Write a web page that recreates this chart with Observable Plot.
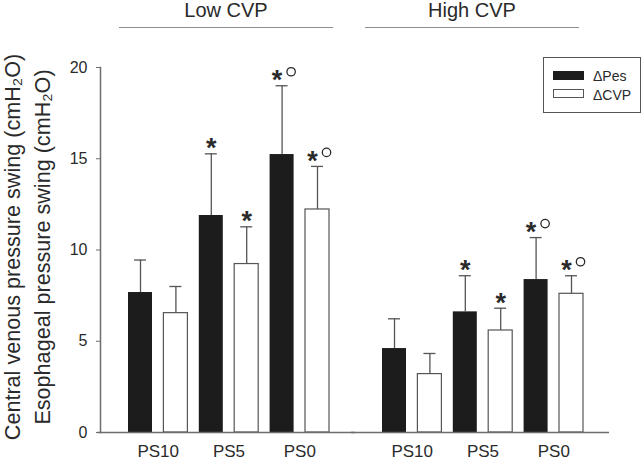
<!DOCTYPE html>
<html>
<head>
<meta charset="utf-8">
<script src="https://cdn.jsdelivr.net/npm/d3@7"></script>
<script src="https://cdn.jsdelivr.net/npm/@observablehq/plot@0.6"></script>
<style>
  body { margin: 0; background: #fff; font-family: "Liberation Sans", Arial, sans-serif; }
  #wrap { position: relative; width: 644px; height: 460px; }
  #chart { position: absolute; left: 0; top: 0; }
  .hdr { position: absolute; top: 1px; height: 26px; border-bottom: 1.5px solid #8c8c8c;
         text-align: center; font-size: 20px; line-height: 19px; color: #2a2a2a; }
  #legend { position: absolute; left: 543px; top: 57px; width: 96px; height: 54px;
            border: 1.3px solid #555; background: #fff; }
  .sw { position: absolute; left: 9px; width: 31px; height: 9px; box-sizing: border-box; }
  .lt { position: absolute; left: 49px; font-size: 14px; line-height: 14px; color: #2a2a2a; white-space: nowrap; }
</style>
</head>
<body>
<div id="wrap">
  <div id="chart"></div>
  <div id="hdrLow" class="hdr" style="left:119px;width:214px"></div>
  <div id="hdrHigh" class="hdr" style="left:365px;width:214px"></div>
  <div id="legend">
    <div class="sw" style="top:13px;background:#1c1c1c;"></div>
    <div class="lt" id="lg0" style="top:11px;"></div>
    <div class="sw" style="top:31px;background:#fff;border:1.2px solid #555;"></div>
    <div class="lt" id="lg1" style="top:30px;"></div>
  </div>
</div>
<script>
// ---- data ----
const groups = ["Low CVP", "High CVP"];
const conditions = ["PS10", "PS5", "PS0"];
const series = ["ΔPes", "ΔCVP"];
// means (cmH2O), order: Low PS10, PS5, PS0, High PS10, PS5, PS0
const pesMean = [7.67, 11.89, 15.23, 4.60, 6.61, 8.38];
const pesSD   = [1.78, 3.38, 3.77, 1.63, 1.98, 2.30];
const cvpMean = [6.54, 9.23, 12.22, 3.20, 5.59, 7.60];
const cvpSD   = [1.46, 2.04, 2.36, 1.13, 1.22, 0.99];
// significance annotations per condition (* vs PS10, ° vs PS5)
const annotations = ["", "*", "*°"];
const yTicks = [0, 5, 10, 15, 20];
const yTitle1 = "Central venous pressure swing (cmH₂O)";
const yTitle2 = "Esophageal pressure swing (cmH₂O)";

// ---- build table ----
const rows = [];
groups.forEach((g, gi) => {
  conditions.forEach((c, ci) => {
    const i = gi * conditions.length + ci;
    series.forEach((s, si) => {
      const mean = si === 0 ? pesMean[i] : cvpMean[i];
      const sd = si === 0 ? pesSD[i] : cvpSD[i];
      rows.push({group: g, condition: c, series: s, key: c + "|" + s, mean, top: mean + sd, ann: annotations[ci]});
    });
  });
});
const xKeys = conditions.flatMap(c => series.map(s => c + "|" + s));
const pesRows = rows.filter(d => d.series === series[0]);
const cvpRows = rows.filter(d => d.series === series[1]);
const starOnly = rows.filter(d => d.ann === "*");
const starCircle = rows.filter(d => d.ann === "*°");

const ink = "#2a2a2a";
const grayLine = "#6e6e6e";

const chart = Plot.plot({
  width: 644,
  height: 460,
  marginLeft: 100,
  marginRight: 61,
  marginTop: 67,
  marginBottom: 28,
  style: {fontFamily: "Liberation Sans, Arial, sans-serif", fontSize: "16px", color: ink, background: "white"},
  fx: {domain: groups, paddingInner: 25 / 254, paddingOuter: 0, axis: null, label: null, round: false},
  x: {domain: xKeys, paddingInner: 0.322, paddingOuter: 0.3955, align: 1, axis: null, round: false},
  y: {domain: [0, 20], label: null},
  marks: [
    Plot.axisY({ticks: yTicks, tickSize: 4, tickPadding: 9, fontSize: 16, stroke: grayLine, fill: ink, label: null}),
    Plot.frame({anchor: "left", facetAnchor: "left", stroke: grayLine, strokeWidth: 1.5}),
    Plot.ruleX(rows, {fx: "group", x: "key", y1: "mean", y2: "top", stroke: "#555", strokeWidth: 1.3}),
    Plot.tickY(rows, {fx: "group", x: "key", y: "top", stroke: "#555", strokeWidth: 1.3, insetLeft: 6, insetRight: 6}),
    Plot.barY(pesRows, {fx: "group", x: "key", y: "mean", fill: "#1c1c1c"}),
    Plot.barY(cvpRows, {fx: "group", x: "key", y: "mean", fill: "white", stroke: "#555", strokeWidth: 1.2}),
    Plot.ruleY([0], {stroke: grayLine, strokeWidth: 1.5, insetLeft: -3, insetRight: -26}),
    Plot.text(starOnly, {fx: "group", x: "key", y: "top", text: () => "*", lineAnchor: "bottom", dy: 3.4, fontSize: 27, fontWeight: "bold", fill: ink}),
    Plot.text(starCircle, {fx: "group", x: "key", y: "top", text: () => "*", lineAnchor: "bottom", dy: 3.4, dx: -5, fontSize: 27, fontWeight: "bold", fill: ink}),
    Plot.dot(starCircle, {fx: "group", x: "key", y: "top", r: 4.2, dx: 9, dy: -14, stroke: ink, strokeWidth: 1.3, fill: "none"}),
    Plot.text(pesRows, {fx: "group", x: "key", text: "condition", frameAnchor: "bottom", lineAnchor: "top", dx: 17.7, dy: 12, fontSize: 17, fill: ink}),
    Plot.text([{fx: groups[0], t: yTitle1}], {fx: "fx", text: "t", frameAnchor: "left", textAnchor: "middle", rotate: -90, lineAnchor: "bottom", dx: -80.5, dy: -3, fontSize: 21.6, fill: ink}),
    Plot.text([{fx: groups[0], t: yTitle2}], {fx: "fx", text: "t", frameAnchor: "left", textAnchor: "middle", rotate: -90, lineAnchor: "bottom", dx: -51, dy: -3, fontSize: 21.6, fill: ink})
  ]
});
document.getElementById("chart").appendChild(chart);
document.getElementById("hdrLow").textContent = groups[0];
document.getElementById("hdrHigh").textContent = groups[1];
document.getElementById("lg0").textContent = series[0];
document.getElementById("lg1").textContent = series[1];
</script>
</body>
</html>
